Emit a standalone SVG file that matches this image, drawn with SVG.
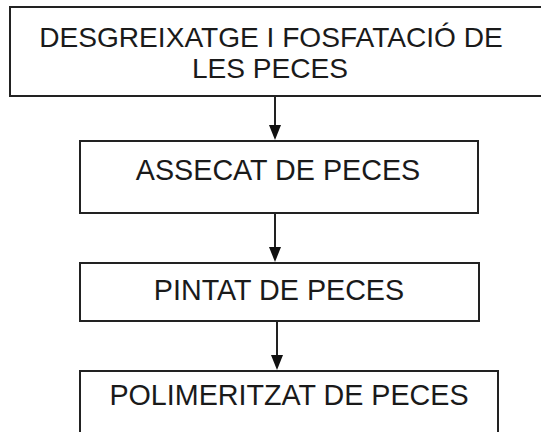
<svg xmlns="http://www.w3.org/2000/svg" width="541" height="432" viewBox="0 0 541 432">
<defs>
<style>
.box{fill:#fff;stroke:#222;stroke-width:2}
.t{font-family:"Liberation Sans",Arial,sans-serif;font-size:28.7px;fill:#1a1a1a;text-anchor:middle}
.c{stroke:#222;stroke-width:2;fill:none}
</style>
</defs>
<rect width="541" height="432" fill="#fff"/>
<g id="n1">
<rect class="box" x="10" y="7" width="540" height="89"/>
<text class="t" x="271" y="47" style="font-size:28.1px">DESGREIXATGE I FOSFATACIÓ DE</text>
<text class="t" x="270" y="78" style="font-size:28.1px">LES PECES</text>
</g>
<g id="n2">
<rect class="box" x="80" y="141" width="398" height="72"/>
<text class="t" x="278" y="180">ASSECAT DE PECES</text>
</g>
<g id="n3">
<rect class="box" x="80" y="263" width="399" height="58"/>
<text class="t" x="279" y="300">PINTAT DE PECES</text>
</g>
<g id="n4">
<rect class="box" x="80" y="371" width="418" height="80"/>
<text class="t" x="289" y="405">POLIMERITZAT DE PECES</text>
</g>
<g id="connectors">
<path class="c" d="M275,96 L275,126" />
<path d="M269,125 L281,125 L275,140 Z" fill="#111"/>
<path class="c" d="M275,213 L275,248" />
<path d="M269,247 L281,247 L275,262 Z" fill="#111"/>
<path class="c" d="M277,321 L277,356" />
<path d="M271,355 L283,355 L277,370 Z" fill="#111"/>
</g>
</svg>
